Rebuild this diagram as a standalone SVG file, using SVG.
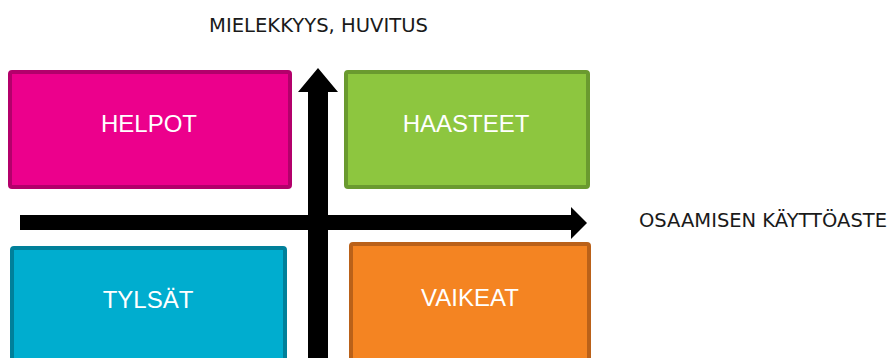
<svg xmlns="http://www.w3.org/2000/svg" width="890" height="358" viewBox="0 0 890 358">
  <style>
    .box { stroke-width: 4; }
    .box-label { font-family: "Liberation Sans", Arial, sans-serif; font-size: 24px; fill: #ffffff; text-anchor: middle; }
    .axis-label { font-family: "DejaVu Sans", Verdana, sans-serif; font-size: 19px; fill: #1a1a1a; }
    .axis { fill: #000000; }
  </style>
  <rect width="890" height="358" fill="#ffffff"/>

  <!-- axes -->
  <g id="connectors">
    <!-- vertical axis: shaft + arrowhead pointing up -->
    <polygon class="axis" points="308,358 308,92 298,92 318,68 338,92 328,92 328,358"/>
    <!-- horizontal axis: shaft + arrowhead pointing right -->
    <polygon class="axis" points="20,215 571,215 571,207 587,223 571,239 571,230 20,230"/>
  </g>

  <g id="helpot">
    <rect class="box" x="10" y="72" width="280" height="115" rx="2" fill="#EC008C" stroke="#B3006B"/>
    <text class="box-label" x="149" y="132">HELPOT</text>
  </g>

  <g id="haasteet">
    <rect class="box" x="346" y="72" width="242" height="115" rx="2" fill="#8DC63F" stroke="#6A9A2F"/>
    <text class="box-label" x="466" y="132">HAASTEET</text>
  </g>

  <g id="tylsat">
    <rect class="box" x="12" y="248" width="273" height="130" rx="2" fill="#00ADCF" stroke="#00809A"/>
    <text class="box-label" x="148" y="308">TYLSÄT</text>
  </g>

  <g id="vaikeat">
    <rect class="box" x="351" y="244" width="238" height="130" rx="2" fill="#F48422" stroke="#BA6119"/>
    <text class="box-label" x="470" y="306">VAIKEAT</text>
  </g>

  <g id="y-axis-label">
    <text class="axis-label" x="209" y="32" textLength="219" lengthAdjust="spacingAndGlyphs">MIELEKKYYS, HUVITUS</text>
  </g>

  <g id="x-axis-label">
    <text class="axis-label" x="639" y="227" textLength="248" lengthAdjust="spacingAndGlyphs">OSAAMISEN KÄYTTÖASTE</text>
  </g>
</svg>
